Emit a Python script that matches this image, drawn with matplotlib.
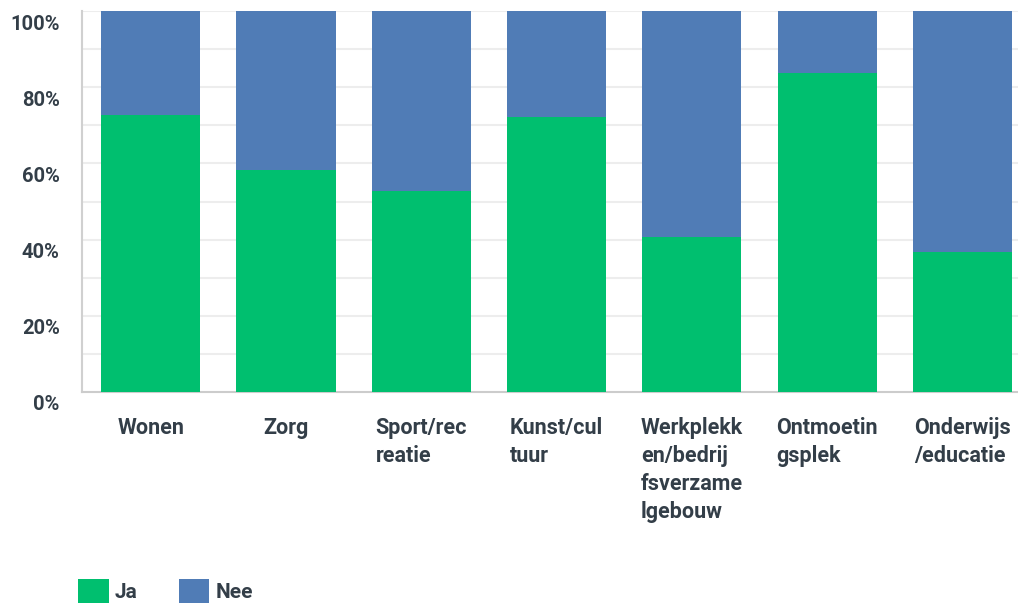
import matplotlib
matplotlib.use("Agg")
import matplotlib.pyplot as plt
from matplotlib.patches import Patch
from matplotlib.transforms import ScaledTranslation

# categorieen (afgebroken zoals in het origineel)
categorieen = [
    "Wonen",
    "Zorg",
    "Sport/rec\nreatie",
    "Kunst/cul\ntuur",
    "Werkplekk\nen/bedrij\nfsverzame\nlgebouw",
    "Ontmoetin\ngsplek",
    "Onderwijs\n/educatie",
]
ja = [72.7, 58.3, 52.8, 72.2, 40.7, 83.7, 36.8]
nee = [100 - v for v in ja]
y_ticks = [0, 20, 40, 60, 80, 100]
y_labels = ["0%", "20%", "40%", "60%", "80%", "100%"]

GROEN = "#00BF6F"
BLAUW = "#507CB6"
TEKST = "#333E48"
FS = 14.5

plt.rcParams["font.family"] = ["Roboto", "DejaVu Sans"]

W, H = 1018, 606
fig = plt.figure(figsize=(W / 100, H / 100), dpi=100)
ax = fig.add_axes([82 / W, (H - 392) / H, (1018 - 82) / W, (392 - 11) / H])

x = list(range(len(categorieen)))
ax.bar(x, ja, width=0.733, color=GROEN, zorder=3)
ax.bar(x, nee, bottom=ja, width=0.733, color=BLAUW, zorder=3)

ax.set_xlim(-0.507, 6.41)
ax.set_ylim(0, 100)

# rasterlijnen elke 10%
for g in range(10, 101, 10):
    ax.axhline(g, color="#EDEDED", lw=1.5, zorder=1)

ax.set_yticks(y_ticks)
ax.set_yticklabels(y_labels, fontsize=FS, fontweight="bold", color=TEKST)
ax.tick_params(axis="y", length=0, pad=16)
offset = ScaledTranslation(0, -0.11, fig.dpi_scale_trans)
for lbl in ax.get_yticklabels():
    lbl.set_transform(lbl.get_transform() + offset)

ax.set_xticks(x)
ax.set_xticklabels(categorieen, fontsize=15.5, fontweight="bold", color=TEKST,
                   linespacing=1.36, va="top")
for lbl in ax.get_xticklabels():
    lbl.set_multialignment("left")
ax.tick_params(axis="x", length=0, pad=18)

for kant in ["top", "right"]:
    ax.spines[kant].set_visible(False)
ax.spines["left"].set_color("#D0D0D0")
ax.spines["bottom"].set_color("#CCCCCC")
ax.spines["left"].set_linewidth(1.5)
ax.spines["bottom"].set_linewidth(1.5)

handles = [Patch(facecolor=GROEN, edgecolor="none", label="Ja"),
           Patch(facecolor=BLAUW, edgecolor="none", label="Nee")]
leg = fig.legend(handles=handles, loc="center left", ncol=2, frameon=False,
                 bbox_to_anchor=(70 / W, 1 - 591 / H), fontsize=15,
                 handlelength=1.45, handleheight=1.45, handletextpad=0.3,
                 columnspacing=2.0, borderaxespad=0)
for t in leg.get_texts():
    t.set_color(TEKST)
    t.set_fontweight("bold")

fig.savefig("out.png", dpi=100)
